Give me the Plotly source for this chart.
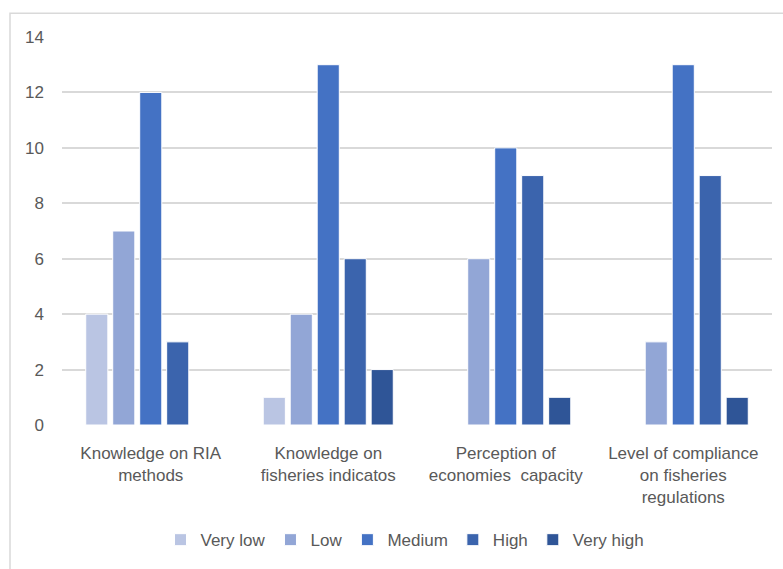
import plotly.graph_objects as go

categories = [
    "Knowledge on RIA<br>methods",
    "Knowledge on<br>fisheries indicatos",
    "Perception of<br>economies  capacity",
    "Level of compliance<br>on fisheries<br>regulations",
]
series_names = ["Very low", "Low", "Medium", "High", "Very high"]
very_low = [4, 1, 0, 0]
low = [7, 4, 6, 3]
medium = [12, 13, 10, 13]
high = [3, 6, 9, 9]
very_high = [0, 2, 1, 1]
y_ticks = [0, 2, 4, 6, 8, 10, 12, 14]

colors = ["#BAC5E3", "#92A6D6", "#4472C4", "#3B64AD", "#2F5597"]
values = [very_low, low, medium, high, very_high]

font_family = "Liberation Sans, Arial, sans-serif"
text_color = "#595959"

fig = go.Figure()
for name, vals, col in zip(series_names, values, colors):
    fig.add_trace(go.Bar(
        x=categories, y=vals, name=name,
        marker=dict(color=col, line=dict(color="white", width=1)),
    ))

W, H = 783, 569
ml, mr, mt, mb = 62, 11, 37, 141
pw, ph = W - ml - mr, H - mt - mb

def px_x(x):
    return (x - ml) / pw

def px_y(y):
    return (H - mb - y) / ph

fig.update_layout(
    width=W, height=H,
    margin=dict(l=ml, r=mr, t=mt, b=mb),
    paper_bgcolor="white", plot_bgcolor="white",
    barmode="group", bargap=0.24, bargroupgap=0.18,
    font=dict(family=font_family, size=17, color=text_color),
    showlegend=True,
    legend=dict(
        orientation="h", x=px_x(405), xanchor="center", y=px_y(544), yanchor="middle",
        font=dict(size=17, color=text_color), itemwidth=30,
        traceorder="normal",
    ),
    xaxis=dict(showgrid=False, showline=False, ticks="", tickfont=dict(size=17),
               ticklabelstandoff=16),
    yaxis=dict(
        range=[0, 14], tickvals=y_ticks, showgrid=True, gridcolor="#D9D9D9",
        gridwidth=1.5, zeroline=False, showline=False, ticks="",
        tickfont=dict(size=17), ticklabelstandoff=17,
    ),
    shapes=[dict(
        type="rect", xref="paper", yref="paper",
        x0=px_x(10), x1=px_x(790), y0=px_y(580), y1=px_y(13),
        line=dict(color="#D9D9D9", width=1.5), layer="below",
    )],
)

fig.write_html("out.html")
